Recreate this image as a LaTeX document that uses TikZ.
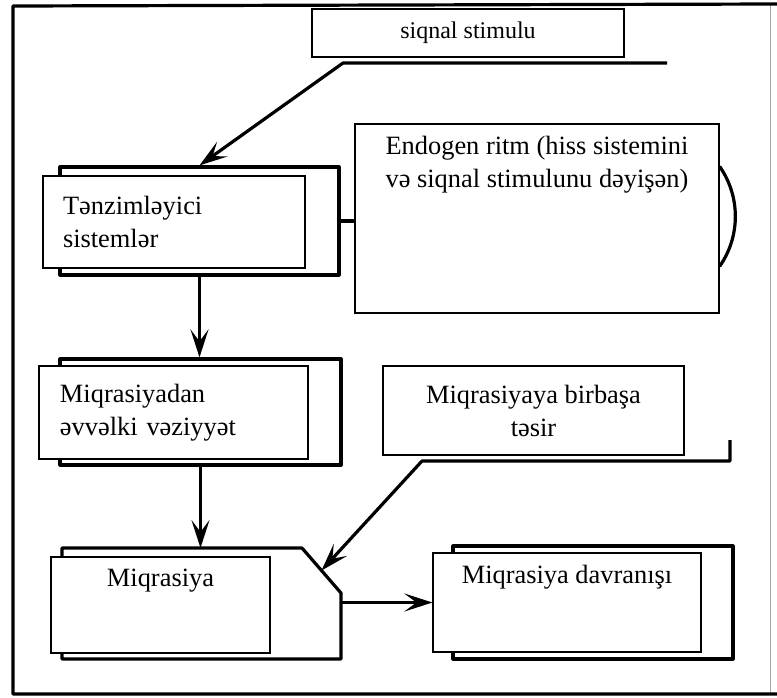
\documentclass[tikz,border=0pt]{standalone}
\usepackage{fontspec}
\setmainfont{Liberation Serif}
\usetikzlibrary{arrows.meta, calc, positioning}
\newcommand{\diafont}{\fontsize{13.2}{16.5}\selectfont}
\newcommand{\stimfont}{\fontsize{12}{14}\selectfont}

\begin{document}
\begin{tikzpicture}[x=0.5pt, y=-0.5pt,
    scan/.style={line width=1.6pt, line join=round},
    flow/.style={scan, -{Stealth[length=14pt, width=9pt, inset=6pt]}},
    backbox/.style={draw, scan, inner sep=0pt},
    wbox/.style={draw, fill=white, line width=0.6pt, inner sep=0pt, font=\diafont, align=center},
    leftbox/.style={wbox, align=left, inner xsep=10pt},
    toptext/.style={anchor=north, align=center, font=\diafont, yshift=-3pt}]
\useasboundingbox (0,0) rectangle (777,697);

% frame
\draw[line width=0.5pt, black!35] (770,4) -- (770,694);
\draw[scan] (777,4) -- (13,6) -- (13,694) -- (777,694);

% boxes of the old scheme
\node[backbox, minimum width=139.5pt, minimum height=54pt] (regB) at (199.5,221) {};
\node[backbox, minimum width=140.5pt, minimum height=53pt] (preB) at (200.5,412) {};
\node[backbox, minimum width=140pt, minimum height=56.5pt] (behB) at (593,602.5) {};
\draw[scan] (62,548) coordinate (migN) -- (302,548) coordinate (migC1)
    -- (341,593) coordinate (migC2) -- (341,659) -- (62,659) -- cycle;

% text boxes
\node[wbox, minimum width=156pt, minimum height=24pt, font=\stimfont] (stim) at (468,33) {siqnal stimulu};
\node[leftbox, text width=111pt, minimum height=46pt] (reg) at (174,222) {Tənzimləyici\\sistemlər};
\node[wbox, minimum width=182pt, minimum height=94.5pt,
    label={[toptext]north:{Endogen ritm (hiss sistemini\\və siqnal stimulunu dəyişən)}}] (endo) at (537,218.5) {};
\node[leftbox, inner xsep=10.5pt, text width=113.5pt, minimum height=46.5pt] (pre) at (173.5,412.5) {Miqrasiyadan\\əvvəlki vəziyyət};
\node[wbox, minimum width=150.5pt, minimum height=44.5pt] (dir) at (533.5,410.5) {Miqrasiyaya birbaşa\\təsir};
\node[wbox, minimum width=109.5pt, minimum height=48pt, label={[toptext]north:Miqrasiya}] (mig) at (160.5,605) {};
\node[wbox, minimum width=134pt, minimum height=49.5pt, label={[toptext]north:Miqrasiya davranışı}] (beh) at (567,602.5) {};

% connectors
\coordinate (stimR) at (667,63);
\coordinate (stimL) at (343,63);
\coordinate (dirA) at (730,440);
\coordinate (dirB) at (730,461);
\coordinate (dirC) at (422,461);

\draw[flow] (stimR) -- (stimL) -- (regB.north);
\draw[scan] (regB.east) -- (regB.east -| endo.west);
\draw[scan] ($(endo.north east)+(0,43)$) .. controls +(21,30) and +(21,-30) .. ($(endo.north east)+(0,143)$);
\draw[flow] (regB.south) -- (regB.south |- preB.north);
\draw[flow] (preB.south) -- (preB.south |- migN);
\draw[flow] (dirA) -- (dirB) -- (dirC) -- ($(migC1)!0.5!(migC2)$);
\draw[flow] (migC2 |- beh.west) -- (beh.west);
\end{tikzpicture}
\end{document}
